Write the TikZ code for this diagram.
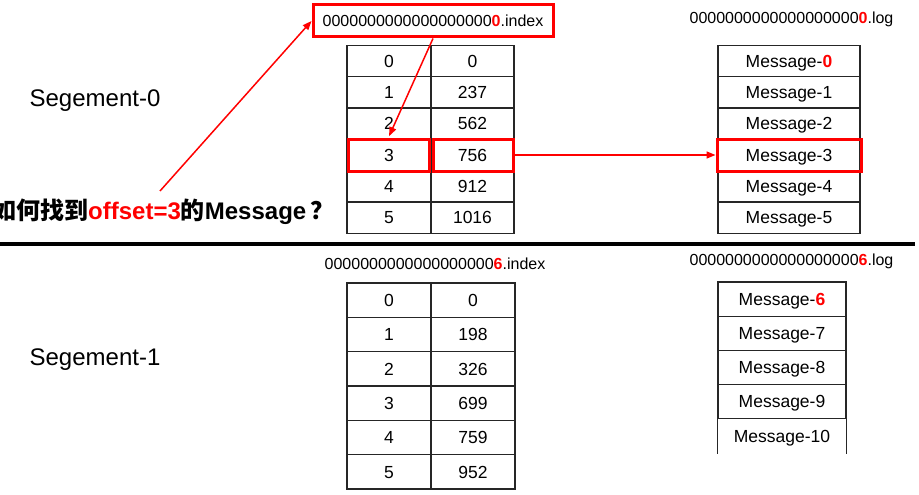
\documentclass[tikz,border=0pt]{standalone}
\usepackage{fontspec}
\setmainfont{Liberation Sans}
\newfontfamily\cjk{Noto Sans CJK SC}
\usetikzlibrary{arrows.meta}
\newcommand\redd[1]{\textcolor{red}{\textbf{#1}}}
\begin{document}
\begin{tikzpicture}[x=1pt,y=-1pt,
  gridline/.style={draw=black!85, line width=1.1pt},
  cell/.style={gridline, inner sep=0pt, text height=12.5pt, text depth=0pt, font=\fontsize{17.5}{20}\selectfont},
  lbl/.style={inner sep=0pt, text height=11.5pt, text depth=0pt, font=\fontsize{16}{18}\selectfont},
  seg/.style={inner sep=0pt, text height=17.2pt, text depth=0pt, font=\fontsize{24}{27}\selectfont},
  hl/.style={draw=red, line width=3pt, inner sep=0pt},
  redarrow/.style={draw=red, line width=1.5pt, -{Triangle[length=9pt,width=7pt]}},
  ]
\useasboundingbox (0,0) rectangle (919,495);

% ---------- Segment 0 ----------
\node[seg] (s0) at (95,98) {Segement-0};

\foreach \k/\v in {0/0,1/237,2/562,3/756,4/912,5/1016} {
  \node[cell, minimum width=84pt, minimum height=31.33pt] (ta\k) at (389,{61+31.33*\k}) {\k};
  \node[cell, minimum width=83pt, minimum height=31.33pt] (tb\k) at (472.5,{61+31.33*\k}) {\v};
}
\node[cell, minimum width=142pt, minimum height=31.33pt] (tl0) at (789,61) {Message-\redd{0}};
\foreach \k in {1,...,5} {
  \node[cell, minimum width=142pt, minimum height=31.33pt] (tl\k) at (789,{61+31.33*\k}) {Message-\k};
}

\node[lbl] (tlog) at (791.5,18) {0000000000000000000\redd{0}.log};
\node[lbl, hl, minimum width=240pt, minimum height=32pt] (tidx) at (433,21) {0000000000000000000\redd{0}.index};

\node[hl, minimum width=81pt, minimum height=32pt] (h1) at (388.5,155) {};
\node[hl, minimum width=80pt, minimum height=32pt] (h2) at (473,155) {};
\node[hl, minimum width=144pt, minimum height=32pt] (h3) at (789,155) {};

\node[inner sep=0pt, anchor=west, font=\fontsize{24}{27}\selectfont\bfseries] (q) at (-8,212)
  {{\cjk 如何找到}\textcolor{red}{offset=3}{\cjk 的}Message\,{\cjk ？}};

\coordinate (qs) at (160,191);
\draw[redarrow] (qs) -- (tidx.west);
\draw[redarrow, shorten >=1.5pt] (tidx.south) -- (h1.north);
\draw[redarrow] (h2.east) -- (h3.west);

% ---------- separator ----------
\draw[line width=4pt] (0,244) -- (915,244);

% ---------- Segment 1 ----------
\node[seg] (s1) at (95,357) {Segement-1};

\node[lbl] (bidx) at (435,264) {0000000000000000000\redd{6}.index};
\node[lbl] (blog) at (791.5,260) {0000000000000000000\redd{6}.log};

\foreach \k/\v in {0/0,1/198,2/326,3/699,4/759,5/952} {
  \node[cell, minimum width=84pt, minimum height=34.33pt] (ba\k) at (389,{300.2+34.33*\k}) {\k};
  \node[cell, minimum width=84pt, minimum height=34.33pt] (bb\k) at (473,{300.2+34.33*\k}) {\v};
}

\node[cell, minimum width=128pt, minimum height=34.2pt] (bl0) at (782,299.1) {Message-\redd{6}};
\foreach \k/\m in {1/7,2/8,3/9} {
  \node[cell, minimum width=128pt, minimum height=34.2pt] (bl\k) at (782,{299.1+34.2*\k}) {Message-\m};
}
\node[cell, draw=none, minimum width=128pt, minimum height=34.2pt] (bl4) at (782,{299.1+34.2*4}) {Message-10};
\draw[gridline] (bl4.south west) -- (bl4.north west) -- (bl4.north east) -- (bl4.south east);

\end{tikzpicture}
\end{document}
